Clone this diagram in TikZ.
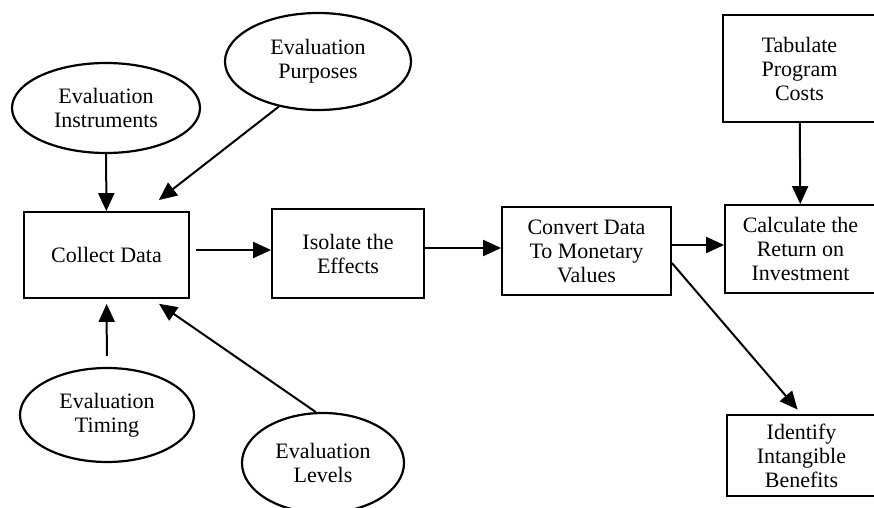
\documentclass[tikz,border=0pt]{standalone}
\usepackage{fontspec}
\setmainfont{Liberation Serif}
\usetikzlibrary{shapes.geometric,arrows.meta}
\begin{document}
\begin{tikzpicture}[x=0.5pt,y=-0.5pt,
    txt/.style={align=center,inner sep=0pt,font=\fontsize{11}{12}\selectfont},
    box/.style={txt,draw,line width=0.9pt,rectangle},
    oval/.style={txt,draw,line width=1.1pt,ellipse},
    arr/.style={line width=1pt,-{Triangle[length=9pt,width=8pt]}}]
    \useasboundingbox (0,0) rectangle (874,508);
    \clip (0,0) rectangle (874,508);
    \node[box,minimum width=82.5pt,minimum height=43pt] (coll) at (106.5,255) {Collect Data};
    \node[box,minimum width=76pt,minimum height=44.5pt] (iso) at (348,253.5) {Isolate the\\Effects};
    \node[box,minimum width=84.5pt,minimum height=44pt] (conv) at (586.5,251) {Convert Data\\To Monetary\\Values};
    \node[box,minimum width=75.5pt,minimum height=44pt] (calc) at (800.5,249) {Calculate the\\Return on\\Investment};
    \node[box,minimum width=76.5pt,minimum height=53.5pt] (tab) at (799.5,68.5) {Tabulate\\Program\\Costs};
    \node[box,minimum width=74.5pt,minimum height=40.5pt] (ident) at (801.5,455.5) {Identify\\Intangible\\Benefits};
    \node[oval,minimum width=94pt,minimum height=45pt] (instr) at (106,108) {Evaluation\\Instruments};
    \node[oval,minimum width=93pt,minimum height=48.5pt] (purp) at (318,61.5) {Evaluation\\Purposes};
    \node[oval,minimum width=87pt,minimum height=47pt] (timing) at (107,415) {Evaluation\\Timing};
    \node[oval,minimum width=81pt,minimum height=50pt] (levels) at (323,463) {Evaluation\\Levels};
    \draw[arr] (instr) -- (coll);
    \draw[arr,shorten >=9pt] (purp.229) -- (coll.49);
    \draw[arr,shorten <=5.5pt,shorten >=2.5pt] (timing) -- (coll);
    \draw[arr,shorten >=4.3pt] (levels.98) -- (coll.316);
    \draw[arr,shorten <=3pt] ([yshift=2.5pt]coll.east) -- ([yshift=2.5pt]coll.east -| iso.west);
    \draw[arr] ([yshift=2.75pt]iso.east) -- ([yshift=2.75pt]iso.east -| conv.west);
    \draw[arr] ([yshift=3pt]conv.east) -- ([yshift=3pt]conv.east -| calc.west);
    \draw[arr] (tab) -- (calc);
    \draw[arr,shorten >=3pt] (conv.352) -- (ident.north);
\end{tikzpicture}
\end{document}
